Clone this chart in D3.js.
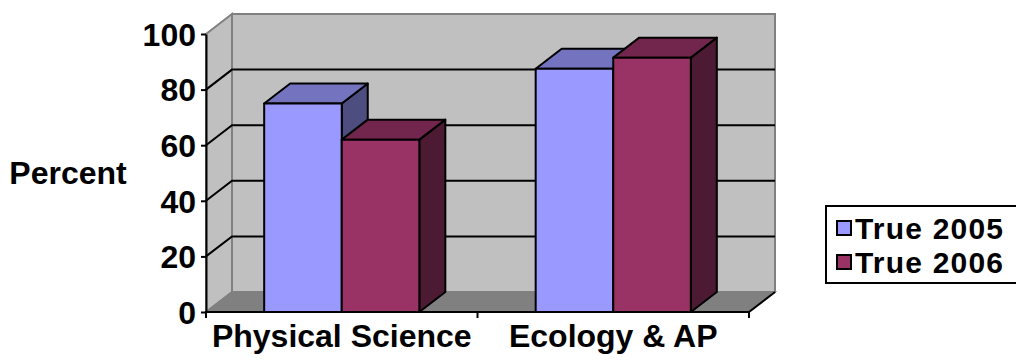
<!DOCTYPE html>
<html>
<head>
<meta charset="utf-8">
<script src="https://cdn.jsdelivr.net/npm/d3@7"></script>
<style>
  body { margin: 0; background: #fff; }
  svg { display: block; }
  text { font-family: "Liberation Sans", Arial, sans-serif; font-weight: bold; fill: #000; }
</style>
</head>
<body>
<svg id="chart" width="1016" height="360"></svg>
<script>
// Chart data
const categories = ["Physical Science", "Ecology & AP"];
const seriesNames = ["True 2005", "True 2006"];
const true2005 = [75, 87.5];
const true2006 = [62, 91.5];
const yTicks = [0, 20, 40, 60, 80, 100];
const seriesColors = ["#9999FF", "#993366"];
const yTitle = "Percent";

const svg = d3.select("#chart");

// Plot frame (front plane) and the 3-D depth offset
const plot = { left: 206, right: 749, bottom: 312, top: 34 };
const depth = { dx: 26, dy: -20 };
const wallFill = "#C0C0C0", floorFill = "#808080", edge = "#808080";
const fontStack = "'Liberation Sans', Arial, sans-serif";

const y = d3.scaleLinear().domain([0, 100]).range([plot.bottom, plot.top]);
const x0 = d3.scaleBand().domain(categories).range([plot.left, plot.right]);
const x1 = d3.scaleBand().domain(seriesNames).range([0, x0.bandwidth()])
  .paddingInner(0).paddingOuter(0.75);

const shade = (c, k) => { const r = d3.rgb(c); return d3.rgb(r.r * k, r.g * k, r.b * k).formatHex(); };
const pts = a => a.map(p => p.join(",")).join(" ");
const back = (px, py) => [px + depth.dx, py + depth.dy];

// Walls and floor
const y0 = y(0), y100 = y(100);
svg.append("polygon")
  .attr("points", pts([[plot.left, y100], back(plot.left, y100), back(plot.left, y0), [plot.left, y0]]))
  .attr("fill", wallFill).attr("stroke", edge).attr("stroke-width", 2);
svg.append("polygon")
  .attr("points", pts([back(plot.left, y100), back(plot.right, y100), back(plot.right, y0), back(plot.left, y0)]))
  .attr("fill", wallFill).attr("stroke", edge).attr("stroke-width", 2);
svg.append("polygon")
  .attr("points", pts([[plot.left, y0], [plot.right, y0], back(plot.right, y0), back(plot.left, y0)]))
  .attr("fill", floorFill).attr("stroke", edge).attr("stroke-width", 1.5);

// Gridlines: along the side wall, then across the back wall
svg.append("g").selectAll("path")
  .data(yTicks.filter(v => v > 0 && v < 100))
  .join("path")
  .attr("d", v => {
    const [bx, by] = back(plot.left, y(v));
    return `M${plot.left},${y(v)}L${bx},${by}L${plot.right + depth.dx},${by}`;
  })
  .attr("fill", "none").attr("stroke", "#000").attr("stroke-width", 2);

// Right end of the floor
svg.append("line")
  .attr("x1", plot.right).attr("y1", y0)
  .attr("x2", plot.right + depth.dx).attr("y2", y0 + depth.dy)
  .attr("stroke", "#000").attr("stroke-width", 2);

// Bars as 3-D boxes (front, top, side), drawn left to right
const bars = [];
categories.forEach((cat, i) => {
  [true2005, true2006].forEach((vals, s) => {
    bars.push({ cat, series: seriesNames[s], value: vals[i], color: seriesColors[s] });
  });
});

const barG = svg.append("g").attr("stroke", "#000").attr("stroke-width", 2).attr("stroke-linejoin", "round");
bars.forEach(d => {
  const xl = x0(d.cat) + x1(d.series);
  const xr = xl + x1.bandwidth();
  const yt = y(d.value);
  const g = barG.append("g");
  g.append("polygon")
    .attr("points", pts([[xr, yt], back(xr, yt), back(xr, y0), [xr, y0]]))
    .attr("fill", shade(d.color, 0.5));
  g.append("polygon")
    .attr("points", pts([[xl, yt], back(xl, yt), back(xr, yt), [xr, yt]]))
    .attr("fill", shade(d.color, 0.75));
  g.append("rect")
    .attr("x", xl).attr("y", yt)
    .attr("width", xr - xl).attr("height", y0 - yt)
    .attr("fill", d.color);
});

// Value axis
const yAxis = svg.append("g")
  .attr("transform", `translate(${plot.left},0)`)
  .call(d3.axisLeft(y).tickValues(yTicks).tickSize(5).tickSizeOuter(0).tickPadding(5));
yAxis.select(".domain").attr("stroke", "#000").attr("stroke-width", 2);
yAxis.selectAll(".tick line").attr("stroke", "#000").attr("stroke-width", 2);
yAxis.selectAll(".tick text").attr("font-size", 32).attr("dy", "0.35em")
  .style("font-family", fontStack).style("font-weight", "bold");

// Category axis: line, boundary ticks, centred labels
svg.append("line")
  .attr("x1", plot.left - 1).attr("x2", plot.right).attr("y1", y0).attr("y2", y0)
  .attr("stroke", "#000").attr("stroke-width", 2);
const bounds = categories.map(c => x0(c)).concat([plot.right]);
svg.append("g").selectAll("line").data(bounds).join("line")
  .attr("x1", d => d).attr("x2", d => d).attr("y1", y0).attr("y2", y0 + 6)
  .attr("stroke", "#000").attr("stroke-width", 2);
const xAxis = svg.append("g")
  .attr("transform", `translate(0,${y0})`)
  .call(d3.axisBottom(x0).tickSize(0).tickPadding(0));
xAxis.select(".domain").remove();
xAxis.selectAll(".tick text").attr("y", 35).attr("dy", null).attr("font-size", 32)
  .style("font-family", fontStack).style("font-weight", "bold");

// Axis title
svg.append("text").attr("x", 68).attr("y", 184).attr("text-anchor", "middle")
  .attr("font-size", 32).text(yTitle);

// Legend
const legend = { x: 826, y: 206, w: 200, h: 77, row: 34 };
svg.append("rect").attr("x", legend.x).attr("y", legend.y)
  .attr("width", legend.w).attr("height", legend.h)
  .attr("fill", "#fff").attr("stroke", "#000").attr("stroke-width", 2);
const items = svg.append("g").selectAll("g").data(seriesNames).join("g")
  .attr("transform", (d, i) => `translate(${legend.x},${legend.y + 22 + i * legend.row})`);
items.append("rect").attr("x", 11).attr("y", -7).attr("width", 14).attr("height", 14)
  .attr("fill", (d, i) => seriesColors[i]).attr("stroke", "#000").attr("stroke-width", 2);
items.append("text").attr("x", 29).attr("y", 0).attr("dy", "0.35em")
  .attr("font-size", 30).attr("letter-spacing", 1.2).text(d => d);
</script>
</body>
</html>
